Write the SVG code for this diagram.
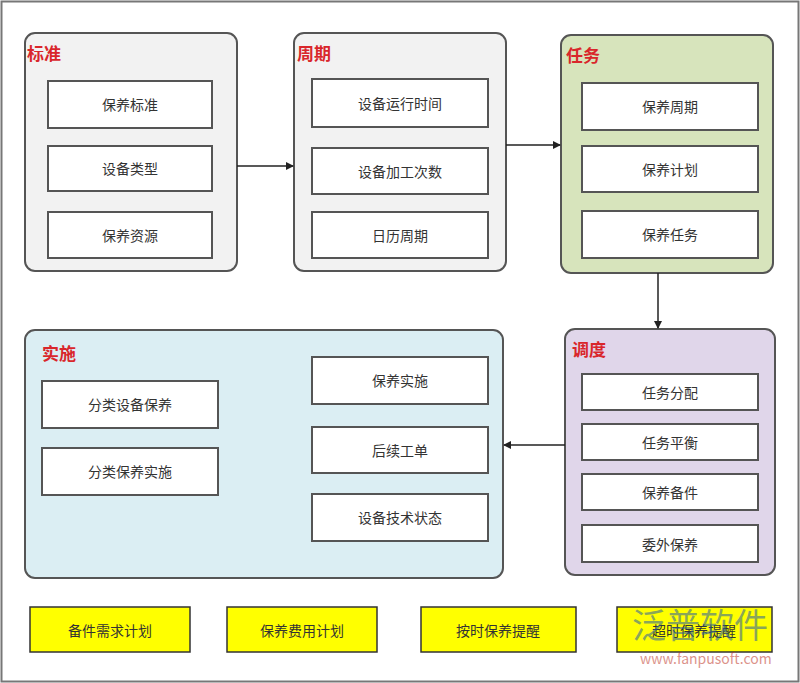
<svg xmlns="http://www.w3.org/2000/svg" width="800" height="683" viewBox="0 0 800 683">
<style>
text{font-family:"Noto Sans CJK SC","Liberation Sans",sans-serif;}
.c{stroke:#555;stroke-width:2;}
.t{fill:#d9262b;font-size:17px;font-weight:bold;}
.b{fill:#fff;stroke:#555;stroke-width:2;}
.l{font-size:14px;fill:#333;text-anchor:middle;dominant-baseline:central;}
.y{fill:#ffff00;stroke:#333;stroke-width:1.5;}
.a{stroke:#222;stroke-width:1.5;fill:none;marker-end:url(#ar);}
</style>
<defs><marker id="ar" markerWidth="8" markerHeight="8" refX="7" refY="4" orient="auto" markerUnits="userSpaceOnUse"><path d="M0,0L8,4L0,8z" fill="#222"/></marker></defs>
<rect x="1.5" y="1.5" width="797" height="680" fill="#fff" stroke="#777" stroke-width="2"/>
<g id="n-biaozhun">
<rect class="c" x="25" y="33" width="212" height="238" rx="10" fill="#f2f2f2"/>
<text class="t" x="27" y="60">标准</text>
<rect class="b" x="48" y="81" width="164" height="47"/><text class="l" x="130" y="104">保养标准</text>
<rect class="b" x="48" y="146" width="164" height="45"/><text class="l" x="130" y="168">设备类型</text>
<rect class="b" x="48" y="212" width="164" height="46"/><text class="l" x="130" y="235">保养资源</text>
</g>
<g id="n-zhouqi">
<rect class="c" x="294" y="33" width="212" height="238" rx="10" fill="#f2f2f2"/>
<text class="t" x="297" y="60">周期</text>
<rect class="b" x="312" y="79" width="176" height="48"/><text class="l" x="400" y="103">设备运行时间</text>
<rect class="b" x="312" y="148" width="176" height="46"/><text class="l" x="400" y="171">设备加工次数</text>
<rect class="b" x="312" y="212" width="176" height="46"/><text class="l" x="400" y="235">日历周期</text>
</g>
<g id="n-renwu">
<rect class="c" x="561" y="35" width="212" height="238" rx="10" fill="#d7e4bc"/>
<text class="t" x="566" y="62">任务</text>
<rect class="b" x="582" y="83" width="176" height="47"/><text class="l" x="670" y="106">保养周期</text>
<rect class="b" x="582" y="146" width="176" height="46"/><text class="l" x="670" y="169">保养计划</text>
<rect class="b" x="582" y="211" width="176" height="47"/><text class="l" x="670" y="234">保养任务</text>
</g>
<g id="n-diaodu">
<rect class="c" x="565" y="329" width="210" height="246" rx="10" fill="#e0d6ea"/>
<text class="t" x="572" y="356">调度</text>
<rect class="b" x="582" y="374" width="176" height="36"/><text class="l" x="670" y="392">任务分配</text>
<rect class="b" x="582" y="424" width="176" height="36"/><text class="l" x="670" y="442">任务平衡</text>
<rect class="b" x="582" y="474" width="176" height="36"/><text class="l" x="670" y="492">保养备件</text>
<rect class="b" x="582" y="525" width="176" height="37"/><text class="l" x="670" y="544">委外保养</text>
</g>
<g id="n-shishi">
<rect class="c" x="25" y="330" width="478" height="248" rx="10" fill="#dbeef3"/>
<text class="t" x="42" y="360">实施</text>
<rect class="b" x="42" y="381" width="176" height="47"/><text class="l" x="130" y="404">分类设备保养</text>
<rect class="b" x="42" y="448" width="176" height="47"/><text class="l" x="130" y="471">分类保养实施</text>
<rect class="b" x="312" y="357" width="176" height="47"/><text class="l" x="400" y="380">保养实施</text>
<rect class="b" x="312" y="427" width="176" height="46"/><text class="l" x="400" y="450">后续工单</text>
<rect class="b" x="312" y="494" width="176" height="47"/><text class="l" x="400" y="517">设备技术状态</text>
</g>
<g id="n-bottom">
<rect class="y" x="30" y="607" width="160" height="45"/><text class="l" x="110" y="630">备件需求计划</text>
<rect class="y" x="227" y="607" width="150" height="45"/><text class="l" x="302" y="630">保养费用计划</text>
<rect class="y" x="421" y="607" width="155" height="45"/><text class="l" x="498" y="630">按时保养提醒</text>
<rect class="y" x="617" y="607" width="155" height="45"/><text class="l" x="694" y="630">超时保养提醒</text>
</g>
<g id="connectors">
<path class="a" d="M237,166H293"/>
<path class="a" d="M506,145H560"/>
<path class="a" d="M658,273V328"/>
<path class="a" d="M565,445H504"/>
</g>
<g id="watermark" opacity="0.55">
<text x="632" y="638" font-size="34" fill="#2c5fa0">泛普软件</text>
<text x="640" y="664" font-size="14" fill="#c0392b" font-family="Liberation Serif,serif">www.fanpusoft.com</text>
</g>
</svg>
